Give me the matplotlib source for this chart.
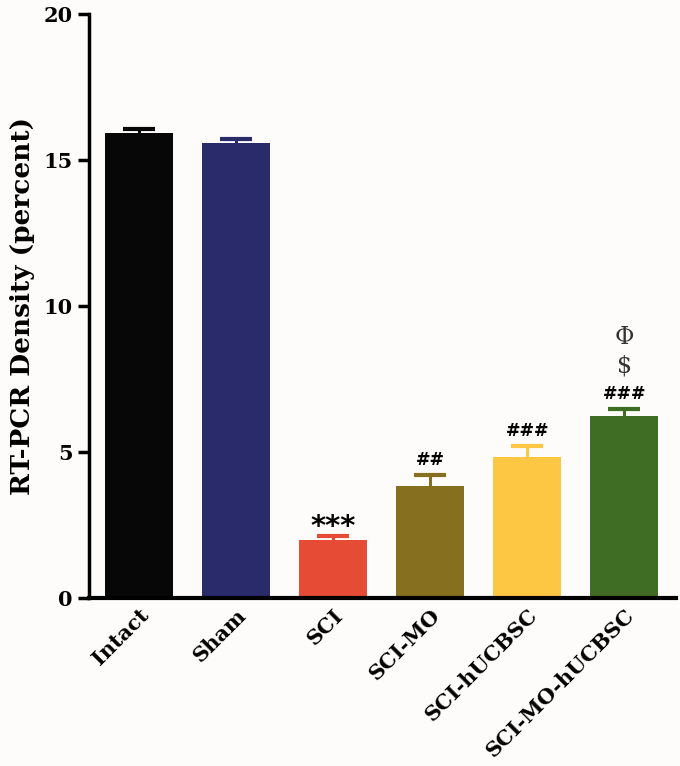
import matplotlib.pyplot as plt
import numpy as np

groups = ['Intact', 'Sham', 'SCI', 'SCI-MO', 'SCI-hUCBSC', 'SCI-MO-hUCBSC']
means = [15.92, 15.58, 1.99, 3.84, 4.83, 6.23]
errs = [0.14, 0.14, 0.13, 0.37, 0.37, 0.24]
colors = ['#070707', '#292b6a', '#e64b36', '#86701f', '#fdc743', '#3e6d23']
marks = ['', '', '***', '##', '###', '###']

fig = plt.figure(figsize=(6.8, 7.66), dpi=100)
fig.patch.set_facecolor('#fdfcfb')
ax = fig.add_axes([0.131, 0.219, 0.863, 0.763])
ax.set_facecolor('#fdfcfb')

x = np.arange(len(groups))
ax.bar(x, means, width=0.70, color=colors, zorder=2)
# upper error bars only (stem + cap)
for i in range(len(groups)):
    ax.vlines(x[i], means[i], means[i] + errs[i], color=colors[i], lw=2.2, zorder=1)
    ax.hlines(means[i] + errs[i], x[i] - 0.165, x[i] + 0.165, color=colors[i], lw=3, zorder=1)

# significance marks
for i in range(len(groups)):
    if marks[i] == '***':
        ax.text(x[i], means[i] + errs[i] - 0.15, marks[i], ha='center', va='bottom',
                fontsize=21, fontweight='bold', family='DejaVu Sans')
    elif marks[i]:
        ax.text(x[i], means[i] + errs[i] + 0.2, marks[i], ha='center', va='bottom',
                fontsize=12.5, fontweight='bold', family='DejaVu Sans')
top = means[5] + errs[5]
ax.text(x[5], top + 1.1, '$', ha='center', va='bottom', fontsize=17,
        family='DejaVu Serif', color='#333333')
ax.text(x[5], top + 2.05, 'Φ', ha='center', va='bottom', fontsize=17,
        family='DejaVu Serif', color='#333333')

ax.set_ylim(0, 20)
ax.set_xlim(-0.515, 5.53)
ax.set_yticks([0, 5, 10, 15, 20])
ax.set_xticks(x)
ax.set_xticklabels(groups, rotation=45, ha='right', rotation_mode='anchor')
for lab in ax.get_xticklabels():
    lab.set_family('DejaVu Serif')
    lab.set_fontweight('bold')
    lab.set_fontsize(15)
for lab in ax.get_yticklabels():
    lab.set_family('DejaVu Serif')
    lab.set_fontweight('bold')
    lab.set_fontsize(15)
ax.tick_params(axis='x', length=0, pad=5)
ax.tick_params(axis='y', length=8, width=2.5, pad=4)
ax.spines['top'].set_visible(False)
ax.spines['right'].set_visible(False)
ax.spines['left'].set_linewidth(2.5)
ax.spines['bottom'].set_linewidth(3)
ax.set_ylabel('RT-PCR Density (percent)', fontsize=19, fontweight='bold',
              family='DejaVu Serif', labelpad=6)

fig.savefig('out.png', dpi=100, facecolor=fig.get_facecolor())
